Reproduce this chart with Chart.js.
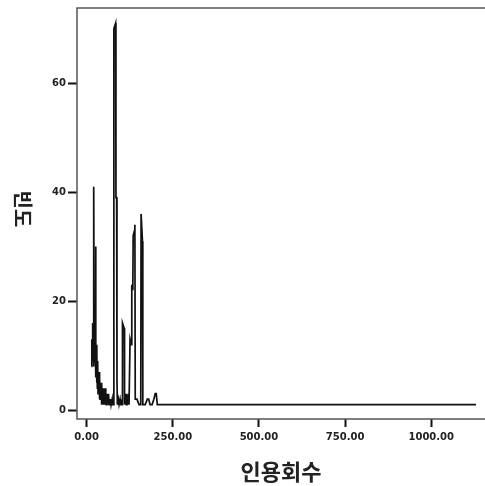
<!DOCTYPE html>
<html><head><meta charset="utf-8">
<script src="https://cdn.jsdelivr.net/npm/chart.js@4"></script>
<style>html,body{margin:0;padding:0;background:#fff;overflow:hidden}</style>
</head><body>
<canvas id="c" width="485" height="486"></canvas>
<script>
const citations = [14,15,16,17,18,19,20,21,22,23, 24,25,26,27,28,29,30,31,32,33, 34,35,36,37,38,39,40,41,42,43,
  44,45,46,47,48,49,50,51,52,53, 54,55,56,57,58,59,60,61,62,63, 64,65,66,67,68,69,70,71, 74,75,78,
  79,84,85,87,88,89,92,94,97,99, 103,104,109,110,113,115,117,119,121,123, 125,126,130,131,134,135,139,140,141,146,
  152,157,158,162,163,170,176,180,184,190, 195,199,202,205,1130];
const frequencies = [8,13,10,16,9,14,8,41,9,12, 10,12,30,6,12,5,10,4,9,3, 7,3,7,2,6,2,5,2,5,1,
  5,2,4,1,4,1,4,2,3,1, 4,1,3,1,3,1,3,1,2,1, 3,1,2,1,2,1,2,1, 2,1,1,
  70,71,39,39,6,1,2,1,2,1, 1,16,15,1,3,1,3,1,2,1, 1,13,12,23,22,32,33,34,2,2,
  1,1,36,31,1,1,2,2,1,1, 2,3,3,1,1];
const xTicks = [0,250,500,750,1000];
const yTicks = [0,20,40,60];
const xTitle = '인용회수';
const yTitle = '빈도';

const points = citations.map((x,i)=>({x:x, y:frequencies[i]}));

const framePlugin = {
  id:'frame',
  beforeDatasetsDraw(chart){
    const {ctx, chartArea:a} = chart;
    ctx.save();
    ctx.strokeStyle='#555'; ctx.lineWidth=1.5;
    ctx.beginPath();
    ctx.moveTo(a.right+2, a.top); ctx.lineTo(a.left, a.top);
    ctx.lineTo(a.left, a.bottom); ctx.lineTo(a.right+2, a.bottom);
    ctx.stroke();
    ctx.translate(23, 209); ctx.rotate(Math.PI/2);
    ctx.font='bold 20px "Noto Sans CJK KR"'; ctx.fillStyle='#222';
    ctx.textAlign='center'; ctx.textBaseline='middle';
    ctx.fillText(yTitle,0,0);
    ctx.restore();
  }
};

const tickFont = {family:'DejaVu Sans', size:10, weight:'bold'};

new Chart(document.getElementById('c'), {
  type:'line',
  data:{datasets:[{data:points, borderColor:'#111', borderWidth:1.7, pointRadius:0, tension:0, fill:false}]},
  options:{
    responsive:false, animation:false,
    layout:{padding:{top:5,right:0,left:0,bottom:0}},
    plugins:{legend:{display:false}, tooltip:{enabled:false}},
    scales:{
      x:{type:'linear', min:-28, max:1156,
        afterBuildTicks:s=>{s.ticks = xTicks.map(v=>({value:v}));},
        afterFit:s=>{s.height=67;},
        ticks:{callback:v=>Number(v).toFixed(2), font:tickFont, color:'#222', padding:4, maxRotation:0, autoSkip:false},
        grid:{display:true, drawOnChartArea:false, drawTicks:true, tickLength:8, tickWidth:2, tickColor:'#111'},
        border:{display:false},
        title:{display:true, text:xTitle, font:{family:'Noto Sans CJK KR', size:22, weight:'bold'}, color:'#222', padding:{top:0,bottom:1}}
      },
      y:{type:'linear', min:-1.64, max:73.8,
        afterBuildTicks:s=>{s.ticks = yTicks.map(v=>({value:v}));},
        afterFit:s=>{s.width=77;},
        ticks:{font:tickFont, color:'#222', padding:2, autoSkip:false},
        grid:{display:true, drawOnChartArea:false, drawTicks:true, tickLength:9, tickWidth:2, tickColor:'#111'},
        border:{display:false}
      }
    }
  },
  plugins:[framePlugin]
});
</script>
</body></html>
